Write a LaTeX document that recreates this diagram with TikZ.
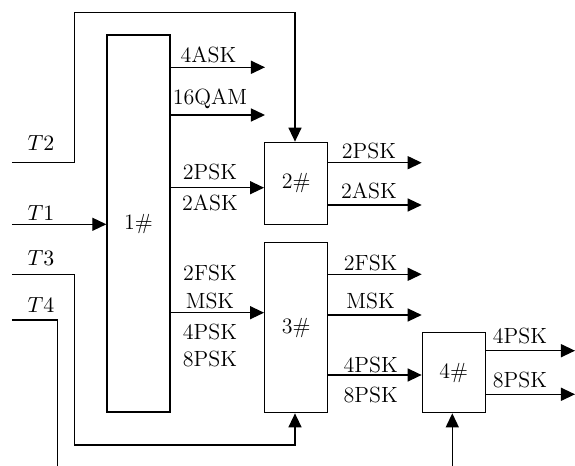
\documentclass[tikz,border=0pt]{standalone}
\usetikzlibrary{arrows.meta}
\begin{document}
\begin{tikzpicture}[x=0.5pt,y=-0.5pt, line width=0.65pt,
  font=\fontsize{11pt}{13pt}\selectfont,
  box/.style={draw, line width=0.65pt, inner sep=0pt, minimum width=31.5pt},
  arr/.style={-{Triangle[length=7pt,width=6.5pt]}},
  lab/.style={inner sep=0pt}]
\useasboundingbox (0,0) rectangle (575,466);
% boxes
\node[box, minimum height=188.5pt] (b1) at (138.5,223.5) {1\#};
\node[box, minimum height=41.2pt] (b2) at (296.2,183.5) {2\#};
\node[box, minimum height=85pt] (b3) at (296.2,327.7) {3\#};
\node[box, minimum height=40pt] (b4) at (453.8,372.7) {4\#};
% inputs
\coordinate (t2s) at (12,162.7);
\coordinate (t2a) at (74.3,162.7);
\coordinate (t2b) at (74.3,12.3);
\coordinate (t2c) at (295,12.3);
\draw[arr] (t2s) -- (t2a) -- (t2b) -- (t2c) -- (t2c |- b2.north);
\node[lab] (lt2) at (41,143) {$T2$};
\coordinate (t1s) at (12,224.3);
\draw[arr] (t1s) -- (b1.west |- t1s);
\node[lab] (lt1) at (41,213) {$T1$};
\coordinate (t3s) at (12,274.3);
\coordinate (t3a) at (74.3,274.3);
\coordinate (t3b) at (74.3,445);
\coordinate (t3c) at (295,445);
\draw[arr] (t3s) -- (t3a) -- (t3b) -- (t3c) -- (t3c |- b3.south);
\node[lab] (lt3) at (41,258) {$T3$};
\coordinate (t4s) at (12,320);
\coordinate (t4a) at (57.3,320);
\coordinate (t4b) at (57.3,466);
\draw (t4s) -- (t4a) -- (t4b);
\node[lab] (lt4) at (41,305) {$T4$};
\coordinate (i4) at (452.3,466);
\draw[arr] (i4) -- (i4 |- b4.south);
% box 1 outputs
\coordinate (o11) at (265,67.3);
\coordinate (o12) at (265,115);
\coordinate (o13) at (170,187.7);
\coordinate (o14) at (170,312.7);
\draw[arr] (b1.east |- o11) -- (o11);
\draw[arr] (b1.east |- o12) -- (o12);
\draw[arr] (o13) -- (b2.west |- o13);
\draw[arr] (o14) -- (b3.west |- o14);
\node[lab] (l11) at (208.5,55) {4ASK};
\node[lab] (l12) at (210,99) {16QAM};
\node[lab] (l13) at (210,172) {2PSK};
\node[lab] (l14) at (210,203) {2ASK};
\node[lab] (l15) at (210,273) {2FSK};
\node[lab] (l16) at (210,300.7) {MSK};
\node[lab] (l17) at (210,331.7) {4PSK};
\node[lab] (l18) at (210,359.3) {8PSK};
% box 2 outputs
\coordinate (o21) at (421.7,162.7);
\coordinate (o22) at (421.7,205);
\draw[arr] (b2.east |- o21) -- (o21);
\draw[arr] (b2.east |- o22) -- (o22);
\node[lab] (l21) at (369,150.7) {2PSK};
\node[lab] (l22) at (369,191) {2ASK};
% box 3 outputs
\coordinate (o31) at (421.7,274.3);
\coordinate (o32) at (421.7,315);
\coordinate (o33) at (327.7,375);
\draw[arr] (b3.east |- o31) -- (o31);
\draw[arr] (b3.east |- o32) -- (o32);
\draw[arr] (o33) -- (b4.west |- o33);
\node[lab] (l31) at (370.7,262.7) {2FSK};
\node[lab] (l32) at (370.7,301) {MSK};
\node[lab] (l33) at (370.7,365) {4PSK};
\node[lab] (l34) at (370.7,395) {8PSK};
% box 4 outputs
\coordinate (o41) at (575,350.7);
\coordinate (o42) at (575,394.3);
\draw[arr] (b4.east |- o41) -- (o41);
\draw[arr] (b4.east |- o42) -- (o42);
\node[lab] (l41) at (520,336) {4PSK};
\node[lab] (l42) at (520,380) {8PSK};
\end{tikzpicture}
\end{document}
